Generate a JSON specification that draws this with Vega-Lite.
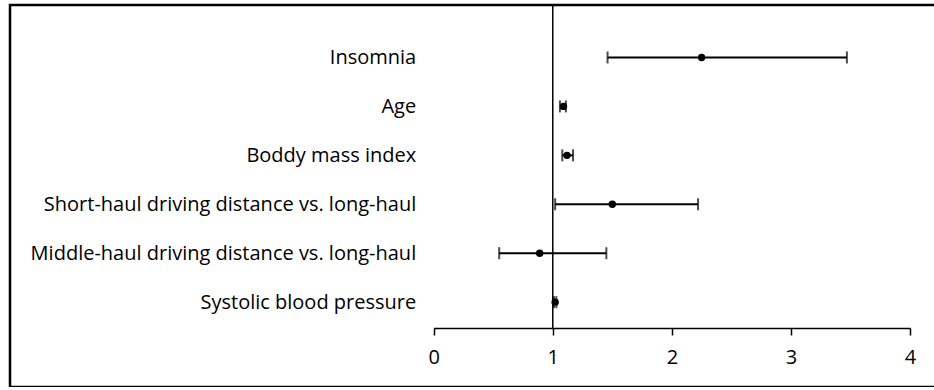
{
  "$schema": "https://vega.github.io/schema/vega-lite/v6.json",
  "width": 934,
  "height": 382,
  "padding": {"left": 10, "top": 5, "right": 0, "bottom": 0},
  "autosize": {"type": "none"},
  "background": "white",
  "config": {
    "view": {"stroke": "black", "strokeWidth": 2.5},
    "font": "Open Sans"
  },
  "datasets": {
    "rows": [
      {"factor": "Insomnia", "or": 2.25, "lo": 1.46, "hi": 3.47},
      {"factor": "Age", "or": 1.09, "lo": 1.06, "hi": 1.11},
      {"factor": "Boddy mass index", "or": 1.12, "lo": 1.08, "hi": 1.17},
      {"factor": "Short-haul driving distance vs. long-haul", "or": 1.5, "lo": 1.02, "hi": 2.22},
      {"factor": "Middle-haul driving distance vs. long-haul", "or": 0.89, "lo": 0.55, "hi": 1.45},
      {"factor": "Systolic blood pressure", "or": 1.02, "lo": 1.01, "hi": 1.03}
    ],
    "ref": [{"x": 1, "from": 0, "to": 1}]
  },
  "resolve": {"scale": {"y": "independent"}},
  "layer": [
    {
      "data": {"name": "ref"},
      "mark": {"type": "rule", "color": "black", "strokeWidth": 1.5},
      "encoding": {
        "x": {
          "field": "x",
          "type": "quantitative",
          "scale": {"domain": [0, 4], "range": [423.7, 900], "nice": false, "zero": false},
          "axis": {
            "title": null,
            "orient": "bottom",
            "offset": -59,
            "values": [0, 1, 2, 3, 4],
            "format": "d",
            "domainColor": "black",
            "domainWidth": 1.5,
            "tickColor": "black",
            "tickWidth": 1.5,
            "tickSize": 7,
            "labelFontSize": 20,
            "labelColor": "black",
            "labelFont": "Open Sans",
            "labelPadding": 12,
            "labelFlush": false,
            "labelOverlap": false,
            "grid": false
          }
        },
        "y": {"field": "from", "type": "quantitative", "scale": {"domain": [0, 1], "range": [0, 323]}, "axis": null},
        "y2": {"field": "to"}
      }
    },
    {
      "data": {"name": "rows"},
      "encoding": {
        "y": {
          "field": "factor",
          "type": "nominal",
          "sort": null,
          "scale": {"type": "point", "range": [0, 323], "padding": 0.8, "align": 0.67},
          "axis": {
            "title": null,
            "orient": "left",
            "offset": -423.7,
            "domain": false,
            "ticks": false,
            "labelPadding": 18,
            "labelFontSize": 20,
            "labelColor": "black",
            "labelFont": "Open Sans",
            "labelLimit": 500
          }
        }
      },
      "layer": [
        {
          "mark": {"type": "rule", "color": "black", "strokeWidth": 2},
          "encoding": {
            "x": {"field": "lo", "type": "quantitative"},
            "x2": {"field": "hi"}
          }
        },
        {
          "mark": {"type": "tick", "color": "black", "thickness": 2, "size": 12, "orient": "vertical"},
          "encoding": {"x": {"field": "lo", "type": "quantitative"}}
        },
        {
          "mark": {"type": "tick", "color": "black", "thickness": 2, "size": 12, "orient": "vertical"},
          "encoding": {"x": {"field": "hi", "type": "quantitative"}}
        },
        {
          "mark": {"type": "point", "filled": true, "color": "black", "size": 55, "opacity": 1},
          "encoding": {"x": {"field": "or", "type": "quantitative"}}
        }
      ]
    }
  ]
}
